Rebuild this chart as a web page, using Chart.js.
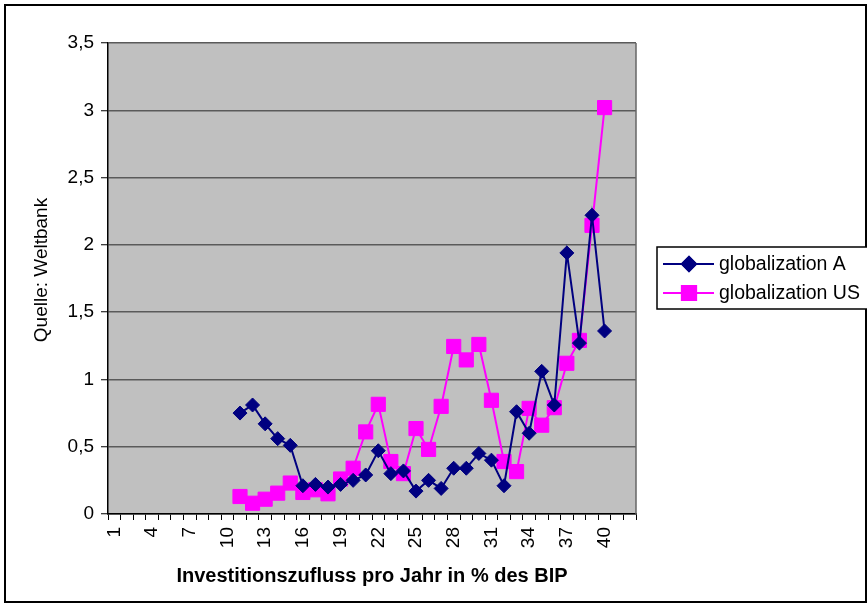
<!DOCTYPE html>
<html>
<head>
<meta charset="utf-8">
<title>globalization</title>
<script src="https://cdn.jsdelivr.net/npm/chart.js@4.4.1/dist/chart.umd.min.js"></script>
<style>
  html, body { margin: 0; padding: 0; background: #ffffff; }
  canvas { display: block; }
</style>
</head>
<body>
<canvas id="chart" width="867" height="607"></canvas>
<script>
// Categories 1..42 on the x axis
const categories = Array.from({ length: 42 }, (_, i) => String(i + 1));

// Series values (categories 1-10 and 41-42 have no data)
const globalizationA = [
  null, null, null, null, null, null, null, null, null, null,
  0.75, 0.81, 0.67, 0.56, 0.51, 0.21, 0.22, 0.20, 0.22, 0.25,
  0.29, 0.47, 0.30, 0.32, 0.17, 0.25, 0.19, 0.34, 0.34, 0.45,
  0.40, 0.21, 0.76, 0.60, 1.06, 0.81, 1.94, 1.27, 2.22, 1.36,
  null, null
];
const globalizationUS = [
  null, null, null, null, null, null, null, null, null, null,
  0.13, 0.08, 0.11, 0.155, 0.23, 0.16, 0.18, 0.15, 0.26, 0.34,
  0.61, 0.815, 0.39, 0.30, 0.635, 0.48, 0.80, 1.245, 1.145, 1.26,
  0.845, 0.39, 0.315, 0.785, 0.66, 0.79, 1.12, 1.29, 2.145, 3.02,
  null, null
];

// Y axis tick values
const yTicks = [0, 0.5, 1, 1.5, 2, 2.5, 3, 3.5];

const yTitle = 'Quelle: Weltbank';
const xTitle = 'Investitionszufluss pro Jahr in % des BIP';

const FONT = "'Liberation Sans', Arial, sans-serif";

// Gray plot area, frame around the whole chart, y title and a boxed legend
const decorations = {
  id: 'decorations',
  beforeDraw(chart) {
    const { ctx, chartArea: a } = chart;
    ctx.save();
    ctx.fillStyle = '#ffffff';
    ctx.fillRect(0, 0, chart.width, chart.height);
    ctx.fillStyle = '#c0c0c0';
    ctx.fillRect(a.left, a.top, a.right - a.left, a.bottom - a.top);
    ctx.restore();
  },
  afterDraw(chart) {
    const { ctx, chartArea: a } = chart;
    ctx.save();
    // plot area right edge
    ctx.strokeStyle = '#666666';
    ctx.lineWidth = 1.5;
    ctx.beginPath();
    ctx.moveTo(a.right, a.top);
    ctx.lineTo(a.right, a.bottom);
    ctx.stroke();

    // outer frame
    ctx.strokeStyle = '#000000';
    ctx.lineWidth = 2;
    ctx.strokeRect(5, 5, 861, 597);

    // y axis title, rotated
    ctx.save();
    ctx.translate(42, 270);
    ctx.rotate(-Math.PI / 2);
    ctx.fillStyle = '#000000';
    ctx.font = '19px ' + FONT;
    ctx.textAlign = 'center';
    ctx.textBaseline = 'middle';
    ctx.fillText(yTitle, 0, 0);
    ctx.restore();

    // legend
    const lx = 657, ly = 247, lw = 215, lh = 62;
    ctx.fillStyle = '#ffffff';
    ctx.fillRect(lx, ly, lw, lh);
    ctx.lineWidth = 1.5;
    ctx.strokeStyle = '#000000';
    ctx.strokeRect(lx, ly, lw, lh);

    chart.data.datasets.forEach((ds, i) => {
      const y = 264 + i * 29;
      ctx.strokeStyle = ds.borderColor;
      ctx.lineWidth = ds.borderWidth;
      ctx.beginPath();
      ctx.moveTo(663, y);
      ctx.lineTo(714, y);
      ctx.stroke();
      Chart.helpers.drawPoint(ctx, {
        pointStyle: ds.pointStyle,
        radius: ds.pointRadius,
        borderWidth: 1
      }, 689, y);
      ctx.fillStyle = ds.pointBackgroundColor;
      ctx.strokeStyle = ds.pointBorderColor;
      ctx.fill();
      ctx.stroke();
      ctx.fillStyle = '#000000';
      ctx.font = '19.5px ' + FONT;
      ctx.textBaseline = 'middle';
      ctx.textAlign = 'left';
      ctx.fillText(ds.label, 719, y + 1);
    });
    ctx.restore();
  }
};

new Chart(document.getElementById('chart'), {
  type: 'line',
  data: {
    labels: categories,
    datasets: [
      {
        label: 'globalization A',
        data: globalizationA,
        borderColor: '#000080',
        backgroundColor: '#000080',
        borderWidth: 2,
        pointStyle: 'rectRot',
        pointRadius: 7,
        pointBackgroundColor: '#000080',
        pointBorderColor: '#000080',
        pointBorderWidth: 1,
        tension: 0
      },
      {
        label: 'globalization US',
        data: globalizationUS,
        borderColor: '#ff00ff',
        backgroundColor: '#ff00ff',
        borderWidth: 2,
        pointStyle: 'rect',
        pointRadius: 10,
        pointBackgroundColor: '#ff00ff',
        pointBorderColor: '#ff00ff',
        pointBorderWidth: 1,
        tension: 0
      }
    ]
  },
  options: {
    responsive: false,
    animation: false,
    devicePixelRatio: 1,
    layout: { padding: { left: 0, top: 43, right: 231, bottom: 0 } },
    plugins: {
      legend: { display: false },
      tooltip: { enabled: false }
    },
    scales: {
      x: {
        type: 'category',
        offset: true,
        afterFit(scale) { scale.height = 93; },
        grid: {
          offset: true,
          drawOnChartArea: false,
          drawTicks: true,
          tickLength: 6,
          tickColor: '#000000',
          tickWidth: 1
        },
        border: { display: true, color: '#000000', width: 1.5 },
        ticks: {
          autoSkip: false,
          minRotation: 90,
          maxRotation: 90,
          padding: 7,
          color: '#000000',
          font: { family: FONT, size: 19 },
          callback(value, index) {
            return index % 3 === 0 ? categories[index] : '';
          }
        },
        title: {
          display: true,
          text: xTitle,
          color: '#000000',
          font: { family: FONT, size: 20, weight: 'bold' },
          padding: { top: 0, bottom: 19 }
        }
      },
      y: {
        min: 0,
        max: 3.5,
        afterFit(scale) { scale.width = 108; },
        afterBuildTicks(scale) {
          scale.ticks = yTicks.map(v => ({ value: v }));
        },
        grid: {
          color: '#5a5a5a',
          lineWidth: 1.5,
          drawTicks: true,
          tickLength: 7,
          tickColor: '#000000',
          tickWidth: 1
        },
        border: { display: true, color: '#000000', width: 1.5 },
        ticks: {
          padding: 7,
          color: '#000000',
          font: { family: FONT, size: 19 },
          callback(value) {
            return String(value).replace('.', ',');
          }
        },
        title: { display: false }
      }
    }
  },
  plugins: [decorations]
});
</script>
</body>
</html>
